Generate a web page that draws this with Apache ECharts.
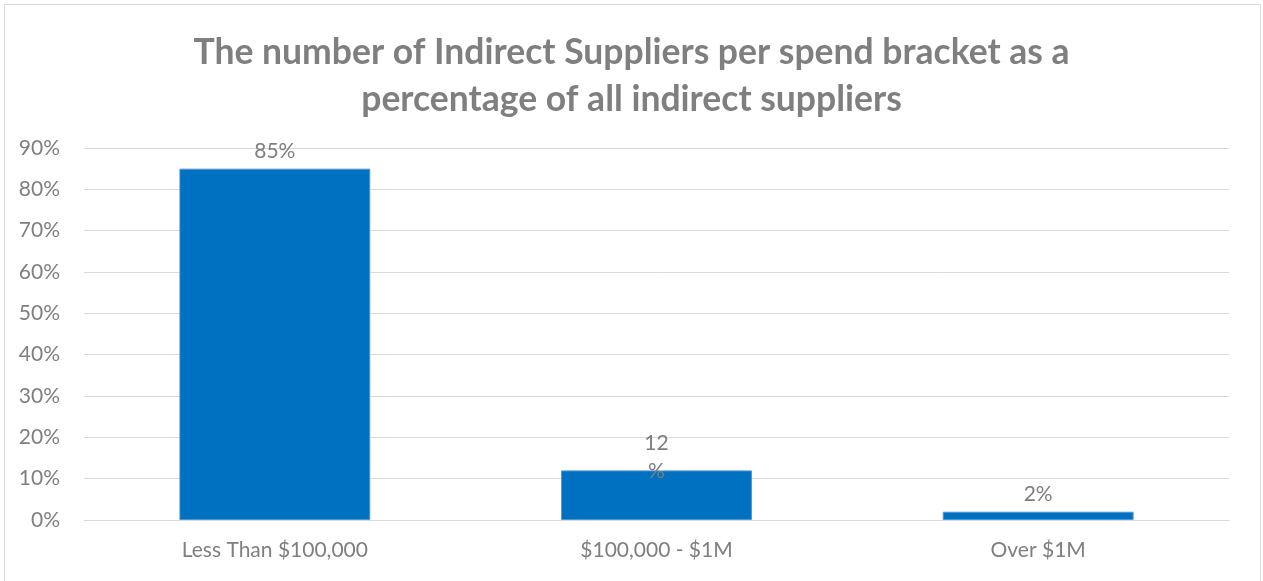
<!DOCTYPE html>
<html>
<head>
<meta charset="utf-8">
<script src="https://cdn.jsdelivr.net/npm/echarts@6/dist/echarts.min.js"></script>
<style>
  html, body { margin: 0; padding: 0; background: #fff; }
  #chart { width: 1263px; height: 581px; }
</style>
</head>
<body>
<div id="chart"></div>
<script>
// Spend brackets and share of indirect suppliers (%)
const categories = ['Less Than $100,000', '$100,000 - $1M', 'Over $1M'];
const shares = [85, 12, 2];
const yTicks = [0, 10, 20, 30, 40, 50, 60, 70, 80, 90];

const chart = echarts.init(document.getElementById('chart'), null, { renderer: 'canvas' });

const textGrey = '#7f7f7f';
const font = 'Lato, "Open Sans", sans-serif';

chart.setOption({
  animation: false,
  backgroundColor: '#ffffff',
  title: {
    text: 'The number of Indirect Suppliers per spend bracket as a\npercentage of all indirect suppliers',
    left: 'center',
    top: 24,
    textStyle: {
      fontFamily: font,
      fontWeight: 'bold',
      fontSize: 35.5,
      lineHeight: 47,
      color: textGrey
    }
  },
  graphic: [{
    type: 'rect',
    shape: { x: 4.5, y: 4.5, width: 1256, height: 620 },
    style: { fill: 'none', stroke: '#d9d9d9', lineWidth: 1 },
    silent: true
  }],
  grid: { left: 84, right: 34, top: 148, bottom: 61 },
  xAxis: {
    type: 'category',
    data: categories,
    axisLine: { show: true, lineStyle: { color: '#d9d9d9', width: 1 } },
    axisTick: { show: false },
    axisLabel: { color: textGrey, fontFamily: font, fontSize: 21, margin: 20 }
  },
  yAxis: {
    type: 'value',
    min: yTicks[0],
    max: yTicks[yTicks.length - 1],
    interval: 10,
    axisLine: { show: false },
    axisTick: { show: false },
    splitLine: { lineStyle: { color: '#d9d9d9', width: 1 } },
    axisLabel: {
      color: textGrey, fontFamily: font, fontSize: 21, margin: 24,
      formatter: v => v + '%'
    }
  },
  series: [{
    type: 'bar',
    barWidth: '50%',
    data: shares.map((v, i) => i === 1
      ? { value: v, label: { width: 26, overflow: 'breakAll', lineHeight: 28, offset: [0, 22] } }
      : { value: v }),
    itemStyle: { color: '#0070c0', borderColor: '#4f94d4', borderWidth: 1 },
    label: {
      show: true,
      position: 'top',
      distance: 7,
      color: textGrey,
      fontFamily: font,
      fontSize: 21,
      formatter: p => p.value + '%'
    }
  }]
});
</script>
</body>
</html>
